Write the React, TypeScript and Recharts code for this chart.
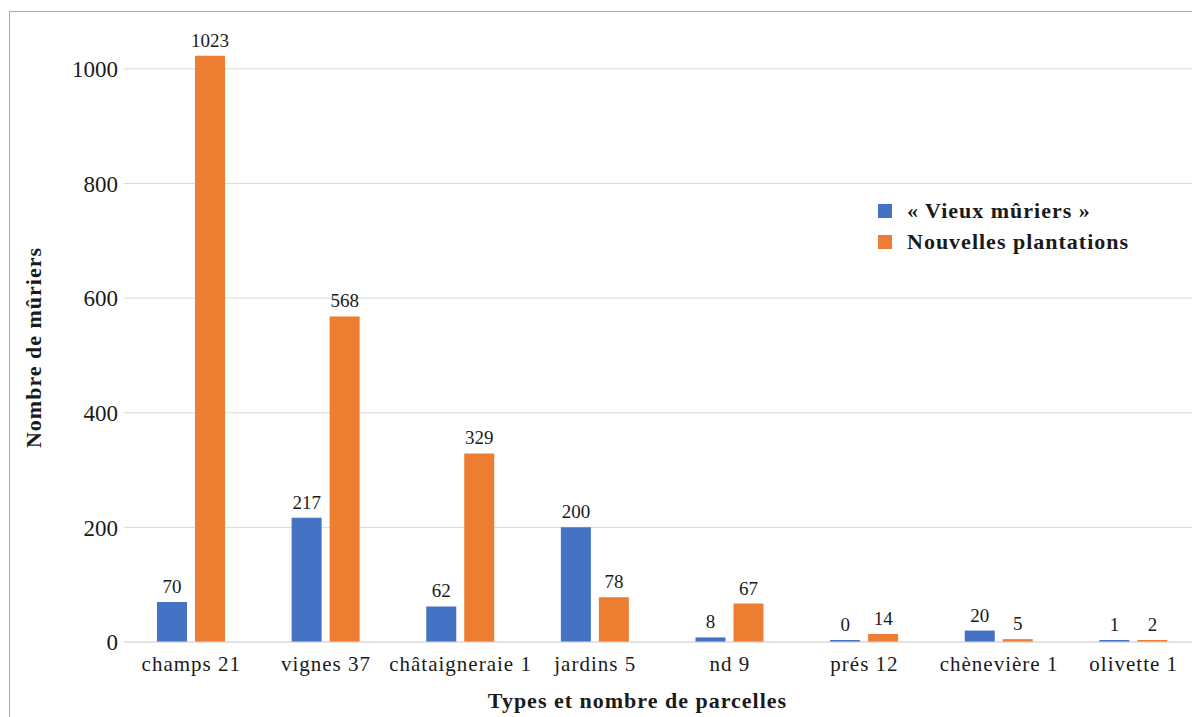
import React from 'react';
import { BarChart, Bar, XAxis, YAxis, CartesianGrid, Legend, LabelList } from 'recharts';

const categories = ['champs 21', 'vignes 37', 'châtaigneraie 1', 'jardins 5', 'nd 9', 'prés 12', 'chènevière 1', 'olivette 1'];
const vieuxMuriers = [70, 217, 62, 200, 8, 0, 20, 1];
const nouvellesPlantations = [1023, 568, 329, 78, 67, 14, 5, 2];
const yTicks = [0, 200, 400, 600, 800, 1000];
const seriesNames = ['« Vieux mûriers »', 'Nouvelles plantations'];
const yTitle = 'Nombre de mûriers';
const xTitle = 'Types et nombre de parcelles';

const data = categories.map((c, i) => ({ name: c, vieux: vieuxMuriers[i], nouvelles: nouvellesPlantations[i] }));

const FONT = '"Liberation Serif", "Times New Roman", serif';
const TEXT = '#1a1a1a';

const renderLegend = (props: any) => {
  const payload = [...(props.payload || [])].sort(
    (a: any, b: any) => seriesNames.indexOf(a.value) - seriesNames.indexOf(b.value)
  );
  return (
    <div style={{ fontFamily: FONT, fontWeight: 'bold', fontSize: 22, letterSpacing: 1, color: TEXT, whiteSpace: 'nowrap' }}>
      {payload.map((p: any) => (
        <div key={p.value} style={{ display: 'flex', alignItems: 'center', height: 31 }}>
          <span style={{ display: 'inline-block', width: 14, height: 14, background: p.color, marginRight: 15 }} />
          <span>{p.value}</span>
        </div>
      ))}
    </div>
  );
};

const YTitle = (props: any) => {
  const vb = props.viewBox;
  const cx = 23;
  const cy = vb.y + vb.height / 2 + 15;
  return (
    <text x={cx} y={cy} transform={`rotate(-90 ${cx} ${cy})`} textAnchor="middle" dominantBaseline="central"
      fontFamily={FONT} fontWeight="bold" fontSize={22} letterSpacing={1} fill={TEXT}>{yTitle}</text>
  );
};

const XTitle = (props: any) => {
  const vb = props.viewBox;
  const cx = vb.x + vb.width / 2 - 25;
  const cy = vb.y + 66;
  return (
    <text x={cx} y={cy} textAnchor="middle" fontFamily={FONT} fontWeight="bold" fontSize={22} letterSpacing={1} fill={TEXT}>{xTitle}</text>
  );
};

export default function App() {
  return (
    <div style={{ position: 'absolute', left: 9, top: 11, width: 1182, height: 705, borderLeft: '1px solid #8faadc', borderTop: '1px solid #8faadc', overflow: 'hidden', background: '#fff' }}>
      <BarChart width={1191} height={705} data={data} margin={{ top: 11, right: 0, bottom: 0, left: 0 }} barSize={30} barGap={8}>
        <CartesianGrid vertical={false} stroke="#d9d9d9" horizontalValues={yTicks} />
        <XAxis dataKey="name" interval={0} height={75} tickLine={false} axisLine={{ stroke: '#d9d9d9' }} tickSize={0} tickMargin={14}
          tick={{ fontFamily: FONT, fontSize: 21, letterSpacing: 1, fill: TEXT }} label={XTitle} />
        <YAxis width={114} domain={[0, 1080]} ticks={yTicks} axisLine={false} tickLine={false} tickSize={0} tickMargin={6}
          tick={{ fontFamily: FONT, fontSize: 23, fill: TEXT }} label={YTitle} />
        <Legend layout="vertical" align="center" verticalAlign="middle" content={renderLegend}
          wrapperStyle={{ position: 'absolute', left: 868, top: 183, width: 'auto' }} />
        <Bar dataKey="vieux" name={seriesNames[0]} fill="#4472C4" isAnimationActive={false} minPointSize={2}>
          <LabelList dataKey="vieux" position="top" offset={9} style={{ fontFamily: FONT, fontSize: 19, fill: TEXT }} />
        </Bar>
        <Bar dataKey="nouvelles" name={seriesNames[1]} fill="#ED7D31" isAnimationActive={false} minPointSize={2}>
          <LabelList dataKey="nouvelles" position="top" offset={9} style={{ fontFamily: FONT, fontSize: 19, fill: TEXT }} />
        </Bar>
      </BarChart>
    </div>
  );
}
